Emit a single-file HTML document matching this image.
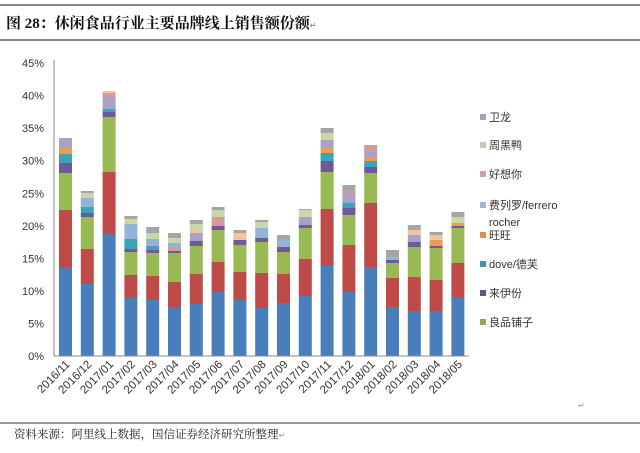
<!DOCTYPE html>
<html><head><meta charset="utf-8"><style>
body{margin:0;width:640px;height:448px;background:#fff;overflow:hidden;font-family:"Liberation Sans","Noto Sans CJK SC",sans-serif;}
</style></head><body>
<svg id="s" width="640" height="448" xmlns="http://www.w3.org/2000/svg" font-family="Liberation Sans, Noto Sans CJK SC, sans-serif">
<line x1="0" y1="5" x2="640" y2="5" stroke="#888" stroke-width="2"/>
<text x="6" y="28" font-size="15" font-weight="bold" fill="#111" font-family="Liberation Serif, Noto Serif CJK SC, serif">图 28：休闲食品行业主要品牌线上销售额份额<tspan font-size="8" fill="#999">↵</tspan></text>
<line x1="0" y1="40" x2="640" y2="40" stroke="#888" stroke-width="2"/>
<line x1="0" y1="423" x2="640" y2="423" stroke="#777" stroke-width="1.5"/>
<text x="14" y="438" font-size="11.5" fill="#222" font-family="Liberation Serif, Noto Serif CJK SC, serif">资料来源：阿里线上数据，国信证券经济研究所整理<tspan font-size="8" fill="#999">↵</tspan></text>
<text x="578" y="408" font-size="8" fill="#999">↵</text>
<g id="bars"></g>
<line x1="54" y1="60" x2="54" y2="356" stroke="#888"/>
<line x1="54" y1="356" x2="469" y2="356" stroke="#888"/>
<g font-size="11" fill="#333" text-anchor="end" id="yl"></g>
<g font-size="11.5" fill="#333" id="xl"></g>
<g font-size="11" fill="#333">
<rect x="480" y="114" width="6" height="6" fill="#a6a0b8"/><text x="489" y="121">卫龙</text>
<rect x="480" y="142" width="6" height="6" fill="#c4ccb8"/><text x="489" y="149">周黑鸭</text>
<rect x="480" y="171" width="6" height="6" fill="#c9a3a5"/><text x="489" y="178">好想你</text>
<rect x="480" y="202" width="6" height="6" fill="#a9b5c8"/><text x="489" y="209">费列罗/ferrero</text>
<text x="489" y="226">rocher</text>
<rect x="480" y="232" width="6" height="6" fill="#d99055"/><text x="489" y="239">旺旺</text>
<rect x="480" y="261" width="6" height="6" fill="#3f9a9c"/><text x="489" y="268">dove/德芙</text>
<rect x="480" y="290" width="6" height="6" fill="#5e5688"/><text x="489" y="297">来伊份</text>
<rect x="480" y="319" width="6" height="6" fill="#8fa85c"/><text x="489" y="326">良品铺子</text>
</g>
</svg>
<script>
var C={b:"#4a7ebb",r:"#be4b48",g:"#98b954",p:"#6e5a96",t:"#3fa3b8",o:"#f09a55",lb:"#95b3d7",pk:"#d39c9a",lv:"#a9a2c6",lg:"#c9d8a6",tn:"#f2c49c",gy:"#a5a5a5"};
var D=[
[["b",267],["r",210],["g",173],["p",163],["t",154],["o",148],["lv",138]],
[["b",284],["r",249],["g",217],["p",213],["t",207],["lb",198],["lg",193],["gy",191]],
[["b",234],["r",172],["g",117],["p",112],["t",109],["lv",97],["pk",93],["tn",91]],
[["b",298],["r",275],["g",252],["p",249],["t",239],["lb",224],["lg",219],["gy",216]],
[["b",300],["r",276],["g",253],["p",250],["t",246],["lb",239],["lg",233],["gy",227]],
[["b",307],["r",282],["g",253],["p",251],["pk",248],["lb",243],["lg",238],["gy",233]],
[["b",304],["r",274],["g",246],["p",241],["lv",233],["tn",230],["lg",224],["gy",220]],
[["b",292],["r",262],["g",230],["p",226],["pk",217],["lg",210],["gy",207]],
[["b",300],["r",272],["g",245],["p",240],["tn",233],["gy",230]],
[["b",308],["r",273],["g",242],["p",238],["lb",228],["lg",222],["gy",220]],
[["b",303],["r",274],["g",252],["p",247],["lb",240],["gy",235]],
[["b",296],["r",259],["g",228],["p",225],["lv",217],["lg",210],["gy",209]],
[["b",265],["r",209],["g",172],["p",161],["t",153],["o",147],["lv",140],["lg",133],["gy",128]],
[["b",292],["r",245],["g",215],["p",208],["t",203],["lv",193],["pk",190],["gy",185]],
[["b",267],["r",203],["g",173],["p",167],["t",161],["o",157],["lv",152],["pk",145]],
[["b",307],["r",278],["g",263],["p",260],["lb",257],["gy",250]],
[["b",311],["r",277],["g",247],["p",242],["lv",235],["tn",230],["gy",225]],
[["b",311],["r",280],["g",248],["p",246],["o",240],["tn",235],["gy",232]],
[["b",298],["r",263],["g",228],["p",226],["o",223],["lg",217],["gy",212]]];
var L=["2016/11","2016/12","2017/01","2017/02","2017/03","2017/04","2017/05","2017/06","2017/07","2017/08","2017/09","2017/10","2017/11","2017/12","2018/01","2018/02","2018/03","2018/04","2018/05"];
var NS="http://www.w3.org/2000/svg",bars=document.getElementById("bars"),xl=document.getElementById("xl"),yl=document.getElementById("yl");
function el(t,a,p,txt){var e=document.createElementNS(NS,t);for(var k in a)e.setAttribute(k,a[k]);if(txt)e.textContent=txt;p.appendChild(e);return e;}
for(var i=0;i<19;i++){var cx=65.5+i*21.8,prev=356;
D[i].forEach(function(s){el("rect",{x:cx-6.5,y:s[1],width:13,height:prev-s[1],fill:C[s[0]]},bars);prev=s[1];});
el("text",{transform:"translate("+(cx+5)+",365) rotate(-45)","text-anchor":"end"},xl,L[i]);}
for(var j=0;j<=9;j++){var y=356-j*32.55;el("text",{x:44,y:y+4},yl,(j*5)+"%");}
</script>
</body></html>
